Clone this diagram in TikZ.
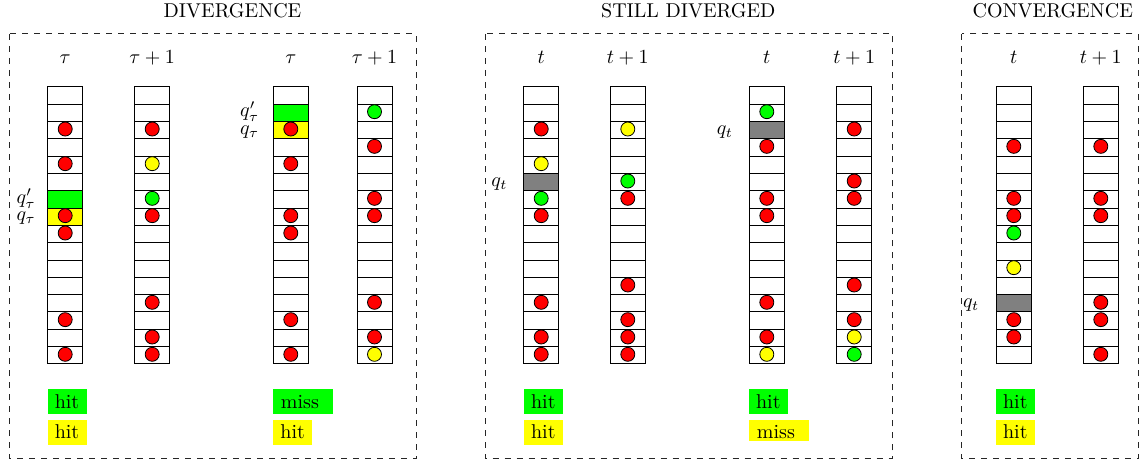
\documentclass[tikz,border=0pt]{standalone}
\usetikzlibrary{calc}
\definecolor{cR}{RGB}{255,0,0}
\definecolor{cY}{RGB}{255,255,0}
\definecolor{cG}{RGB}{0,255,0}
\definecolor{cK}{RGB}{128,128,128}
\tikzset{
  cell/.style={draw=black, line width=0.5pt},
  dot/.style={draw=black, line width=0.4pt},
  frame/.style={draw=black!85, dashed, line width=0.5pt},
  lab/.style={inner sep=0pt, anchor=base west},
  qlab/.style={inner sep=0pt, anchor=base east},
  head/.style={inner sep=0pt, anchor=base},
  ttl/.style={inner sep=0pt, anchor=center},
}
\def\RH{17.33}
\def\CW{35}
\def\TOP{86.7}
\newcommand\slotfill[3]{\fill[#3] (#1,{\TOP+#2*\RH}) rectangle ++(\CW,\RH);}
\newcommand\cachecol[2]{%
  \foreach \i in {0,...,15} {\draw[cell] (#1,{\TOP+\i*\RH}) rectangle ++(\CW,\RH);}
  \foreach \r/\cl in {#2} {\draw[dot,fill=\cl] ({#1+\CW/2},{\TOP+(\r+0.5)*\RH-1}) circle[radius=3.5pt];}
}
\begin{document}
\begin{tikzpicture}[x=0.5pt,y=-0.5pt]
\useasboundingbox (0,0) rectangle (1139,465);
% frames
\draw[frame] (9.7,34) rectangle (416,458.7);
\draw[frame] (485.3,34) rectangle (892.3,458.7);
\draw[frame] (961.7,34) rectangle (1138.3,458.7);
% titles
\node[ttl] (t1) at (232.5,10.5) {DIVERGENCE};
\node[ttl] (t2) at (688.3,10.5) {STILL DIVERGED};
\node[ttl] (t3) at (1052.8,10.5) {CONVERGENCE};
% headers
\node[head] (h1) at (65.2,63.3) {$\tau$};
\node[head] (h2) at (152.2,63.3) {$\tau+1$};
\node[head] (h3) at (290.8,63.3) {$\tau$};
\node[head] (h4) at (374.5,63.3) {$\tau+1$};
\node[head] (h5) at (541.2,63.3) {$t$};
\node[head] (h6) at (627.8,63.3) {$t+1$};
\node[head] (h7) at (766.8,63.3) {$t$};
\node[head] (h8) at (854.2,63.3) {$t+1$};
\node[head] (h9) at (1013.8,63.3) {$t$};
\node[head] (h10) at (1100.8,63.3) {$t+1$};
% fills
\slotfill{47.7}{6}{cG}
\slotfill{47.7}{7}{cY}
\slotfill{273.3}{1}{cG}
\slotfill{273.3}{2}{cY}
\slotfill{523.7}{5}{cK}
\slotfill{749.3}{2}{cK}
\slotfill{996.3}{12}{cK}
% columns
\cachecol{47.7}{2/cR,4/cR,7/cR,8/cR,13/cR,15/cR}
\cachecol{134.7}{2/cR,4/cY,6/cG,7/cR,12/cR,14/cR,15/cR}
\cachecol{273.3}{2/cR,4/cR,7/cR,8/cR,13/cR,15/cR}
\cachecol{357}{1/cG,3/cR,6/cR,7/cR,12/cR,14/cR,15/cY}
\cachecol{523.7}{2/cR,4/cY,6/cG,7/cR,12/cR,14/cR,15/cR}
\cachecol{610.3}{2/cY,5/cG,6/cR,11/cR,13/cR,14/cR,15/cR}
\cachecol{749.3}{1/cG,3/cR,6/cR,7/cR,12/cR,14/cR,15/cY}
\cachecol{836.7}{2/cR,5/cR,6/cR,11/cR,13/cR,14/cY,15/cG}
\cachecol{996.3}{3/cR,6/cR,7/cR,8/cG,10/cY,13/cR,14/cR}
\cachecol{1083.3}{3/cR,6/cR,7/cR,12/cR,13/cR,15/cR}
% q labels
\node[qlab] (q1) at (36,{\TOP+6.5*\RH+4}) {$q'_\tau$};
\node[qlab] (q2) at (36,{\TOP+7.5*\RH+4}) {$q_\tau$};
\node[qlab] (q3) at (259.5,{\TOP+1.5*\RH+4}) {$q'_\tau$};
\node[qlab] (q4) at (259.5,{\TOP+2.5*\RH+4}) {$q_\tau$};
\node[qlab] (q5) at (507.7,{\TOP+5.5*\RH+4.3}) {$q_t$};
\node[qlab] (q6) at (733.3,{\TOP+2.5*\RH+4.3}) {$q_t$};
\node[qlab] (q7) at (979.5,{\TOP+12.5*\RH+4.3}) {$q_t$};
% hit / miss boxes
\fill[cG] (47.7,389) rectangle (87,413.7);
\fill[cY] (47.7,420) rectangle (87,445);
\node[lab] (b1) at (54.4,408.3) {hit};
\node[lab] (b2) at (54.4,438.3) {hit};
\fill[cG] (273,389) rectangle (333,413.7);
\fill[cY] (273,420) rectangle (311.7,445);
\node[lab] (b3) at (280.5,408.3) {miss};
\node[lab] (b4) at (280,438.3) {hit};
\fill[cG] (524,389) rectangle (563,413.7);
\fill[cY] (524,420) rectangle (563,445);
\node[lab] (b5) at (530.7,408.3) {hit};
\node[lab] (b6) at (530.7,438.3) {hit};
\fill[cG] (749,389) rectangle (787.7,413.7);
\fill[cY] (749,420) rectangle (809,441);
\node[lab] (b7) at (755.7,408.3) {hit};
\node[lab] (b8) at (756.5,438.3) {miss};
\fill[cG] (996,389) rectangle (1035,413.7);
\fill[cY] (996,420) rectangle (1035,445);
\node[lab] (b9) at (1002.7,408.3) {hit};
\node[lab] (b10) at (1002.7,438.3) {hit};
\end{tikzpicture}
\end{document}
